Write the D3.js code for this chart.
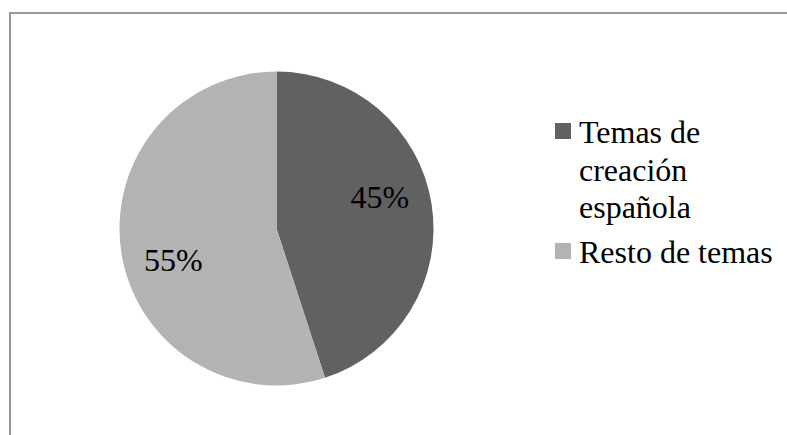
<!DOCTYPE html>
<html>
<head>
<meta charset="utf-8">
<script src="https://cdn.jsdelivr.net/npm/d3@7"></script>
<style>
  html, body { margin: 0; padding: 0; background: #fff; }
  svg { display: block; }
  svg text { font-family: "Liberation Serif", "Times New Roman", Times, "DejaVu Serif", serif; }
</style>
</head>
<body>
<svg id="chart" width="787" height="435"></svg>
<script>
// Chart data
const categories = ["Temas de creación española", "Resto de temas"];
const values = [45, 55];
const legendLines = [["Temas de", "creación", "española"], ["Resto de temas"]];
const colors = ["#616161", "#b3b3b3"];

const svg = d3.select("#chart");

// Outer frame
svg.append("rect")
  .attr("x", 10).attr("y", 13)
  .attr("width", 820).attr("height", 500)
  .attr("fill", "#fff")
  .attr("stroke", "#999")
  .attr("stroke-width", 2);

const cx = 276.5, cy = 228.5, r = 157;
const g = svg.append("g").attr("transform", `translate(${cx},${cy})`);

const pie = d3.pie().sort(null).value(d => d)(values);
const arc = d3.arc().innerRadius(0).outerRadius(r);

g.selectAll("path.slice")
  .data(pie)
  .join("path")
  .attr("class", "slice")
  .attr("d", arc)
  .attr("fill", (d, i) => colors[i]);

// Percentage labels placed inside each slice
const total = d3.sum(values);
const labelR = 108;
const labelShift = -8 * Math.PI / 180;
g.selectAll("text.pct")
  .data(pie)
  .join("text")
  .attr("class", "pct")
  .attr("x", d => labelR * Math.sin((d.startAngle + d.endAngle) / 2 + labelShift))
  .attr("y", d => -labelR * Math.cos((d.startAngle + d.endAngle) / 2 + labelShift))
  .attr("dy", "0.35em")
  .attr("text-anchor", "middle")
  .attr("font-size", 32)
  .attr("fill", "#000")
  .text(d => Math.round(d.data / total * 100) + "%");

// Legend
const legendX = 555;
const legendTops = [123, 243];
const lineH = 37.5;
const lg = svg.append("g");
categories.forEach((c, i) => {
  lg.append("rect")
    .attr("x", legendX).attr("y", legendTops[i])
    .attr("width", 16).attr("height", 16)
    .attr("fill", colors[i]);
  const t = lg.append("text")
    .attr("font-size", 32)
    .attr("fill", "#000");
  legendLines[i].forEach((ln, j) => {
    t.append("tspan")
      .attr("x", legendX + 24)
      .attr("y", legendTops[i] + 20 + j * lineH)
      .text(ln);
  });
});
</script>
</body>
</html>
